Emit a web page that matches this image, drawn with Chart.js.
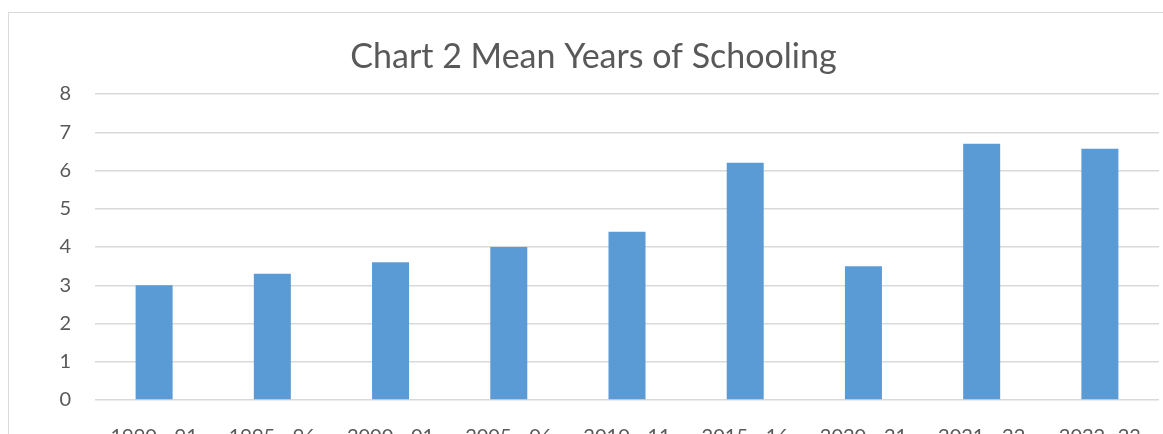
<!DOCTYPE html>
<html>
<head>
<meta charset="utf-8">
<script src="https://cdn.jsdelivr.net/npm/chart.js@4.4.1/dist/chart.umd.min.js"></script>
<style>
  html, body { margin: 0; padding: 0; background: #ffffff; overflow: hidden; }
  /* a touch taller than the window: the y scale reserves 36px below the plot */
  #wrap { width: 1163px; height: 436px; position: relative; }
</style>
</head>
<body>
<div id="wrap"><canvas id="chart-canvas"></canvas></div>
<script>
// data
const years = ["1990 - 91", "1995 - 96", "2000 - 01", "2005 - 06", "2010 - 11",
               "2015 - 16", "2020 - 21", "2021 - 22", "2022 -23"];
const meanYears = [3.0, 3.3, 3.6, 4.0, 4.4, 6.2, 3.5, 6.7, 6.57];
const yTicks = [0, 1, 2, 3, 4, 5, 6, 7, 8];

const textColor = "#595959";
const gridColor = "#d9d9d9";

// thin grey frame round the chart, like the office chart border
const framePlugin = {
    id: "frame",
    beforeDraw: function(chart){
        const ctx = chart.ctx;
        ctx.save();
        ctx.strokeStyle = gridColor;
        ctx.lineWidth = 1;
        ctx.strokeRect(8.5, 12.5, 1400, 600);
        ctx.restore();
    }
};

Chart.defaults.font.family = "Lato, 'Open Sans', sans-serif";
Chart.defaults.color = textColor;

new Chart("chart-canvas", {
    type: "bar",
    data: {
        labels: years,
        datasets: [{
            label: "Mean Years of Schooling",
            data: meanYears,
            backgroundColor: "#5b9bd5",
            barPercentage: 0.313,
            categoryPercentage: 1.0
        }]
    },
    options: {
        responsive: true,
        maintainAspectRatio: false,
        animation: false,
        // left padding pushes the title centre right, like the original frame
        layout: { padding: { left: 28, right: 4, top: 0, bottom: 0 } },
        plugins: {
            legend: { display: false },
            tooltip: { enabled: false },
            title: {
                display: true,
                text: "Chart 2 Mean Years of Schooling",
                color: textColor,
                font: { size: 34, weight: "normal" },
                padding: { top: 37, bottom: 16.2 }
            }
        },
        scales: {
            x: {
                grid: { display: false },
                border: { display: false },
                ticks: { font: { size: 20 }, padding: 17, maxRotation: 0, autoSkip: false },
                afterFit: function(scale){ scale.height = 36; }
            },
            y: {
                min: 0,
                max: 8,
                afterBuildTicks: function(scale){
                    scale.ticks = yTicks.map(v => ({ value: v }));
                },
                grid: { color: gridColor, lineWidth: 1.5, drawTicks: false },
                border: { display: false },
                ticks: { font: { size: 20 }, padding: 24 },
                afterFit: function(scale){ scale.width = 67; }
            }
        }
    },
    plugins: [framePlugin]
});
</script>
</body>
</html>
